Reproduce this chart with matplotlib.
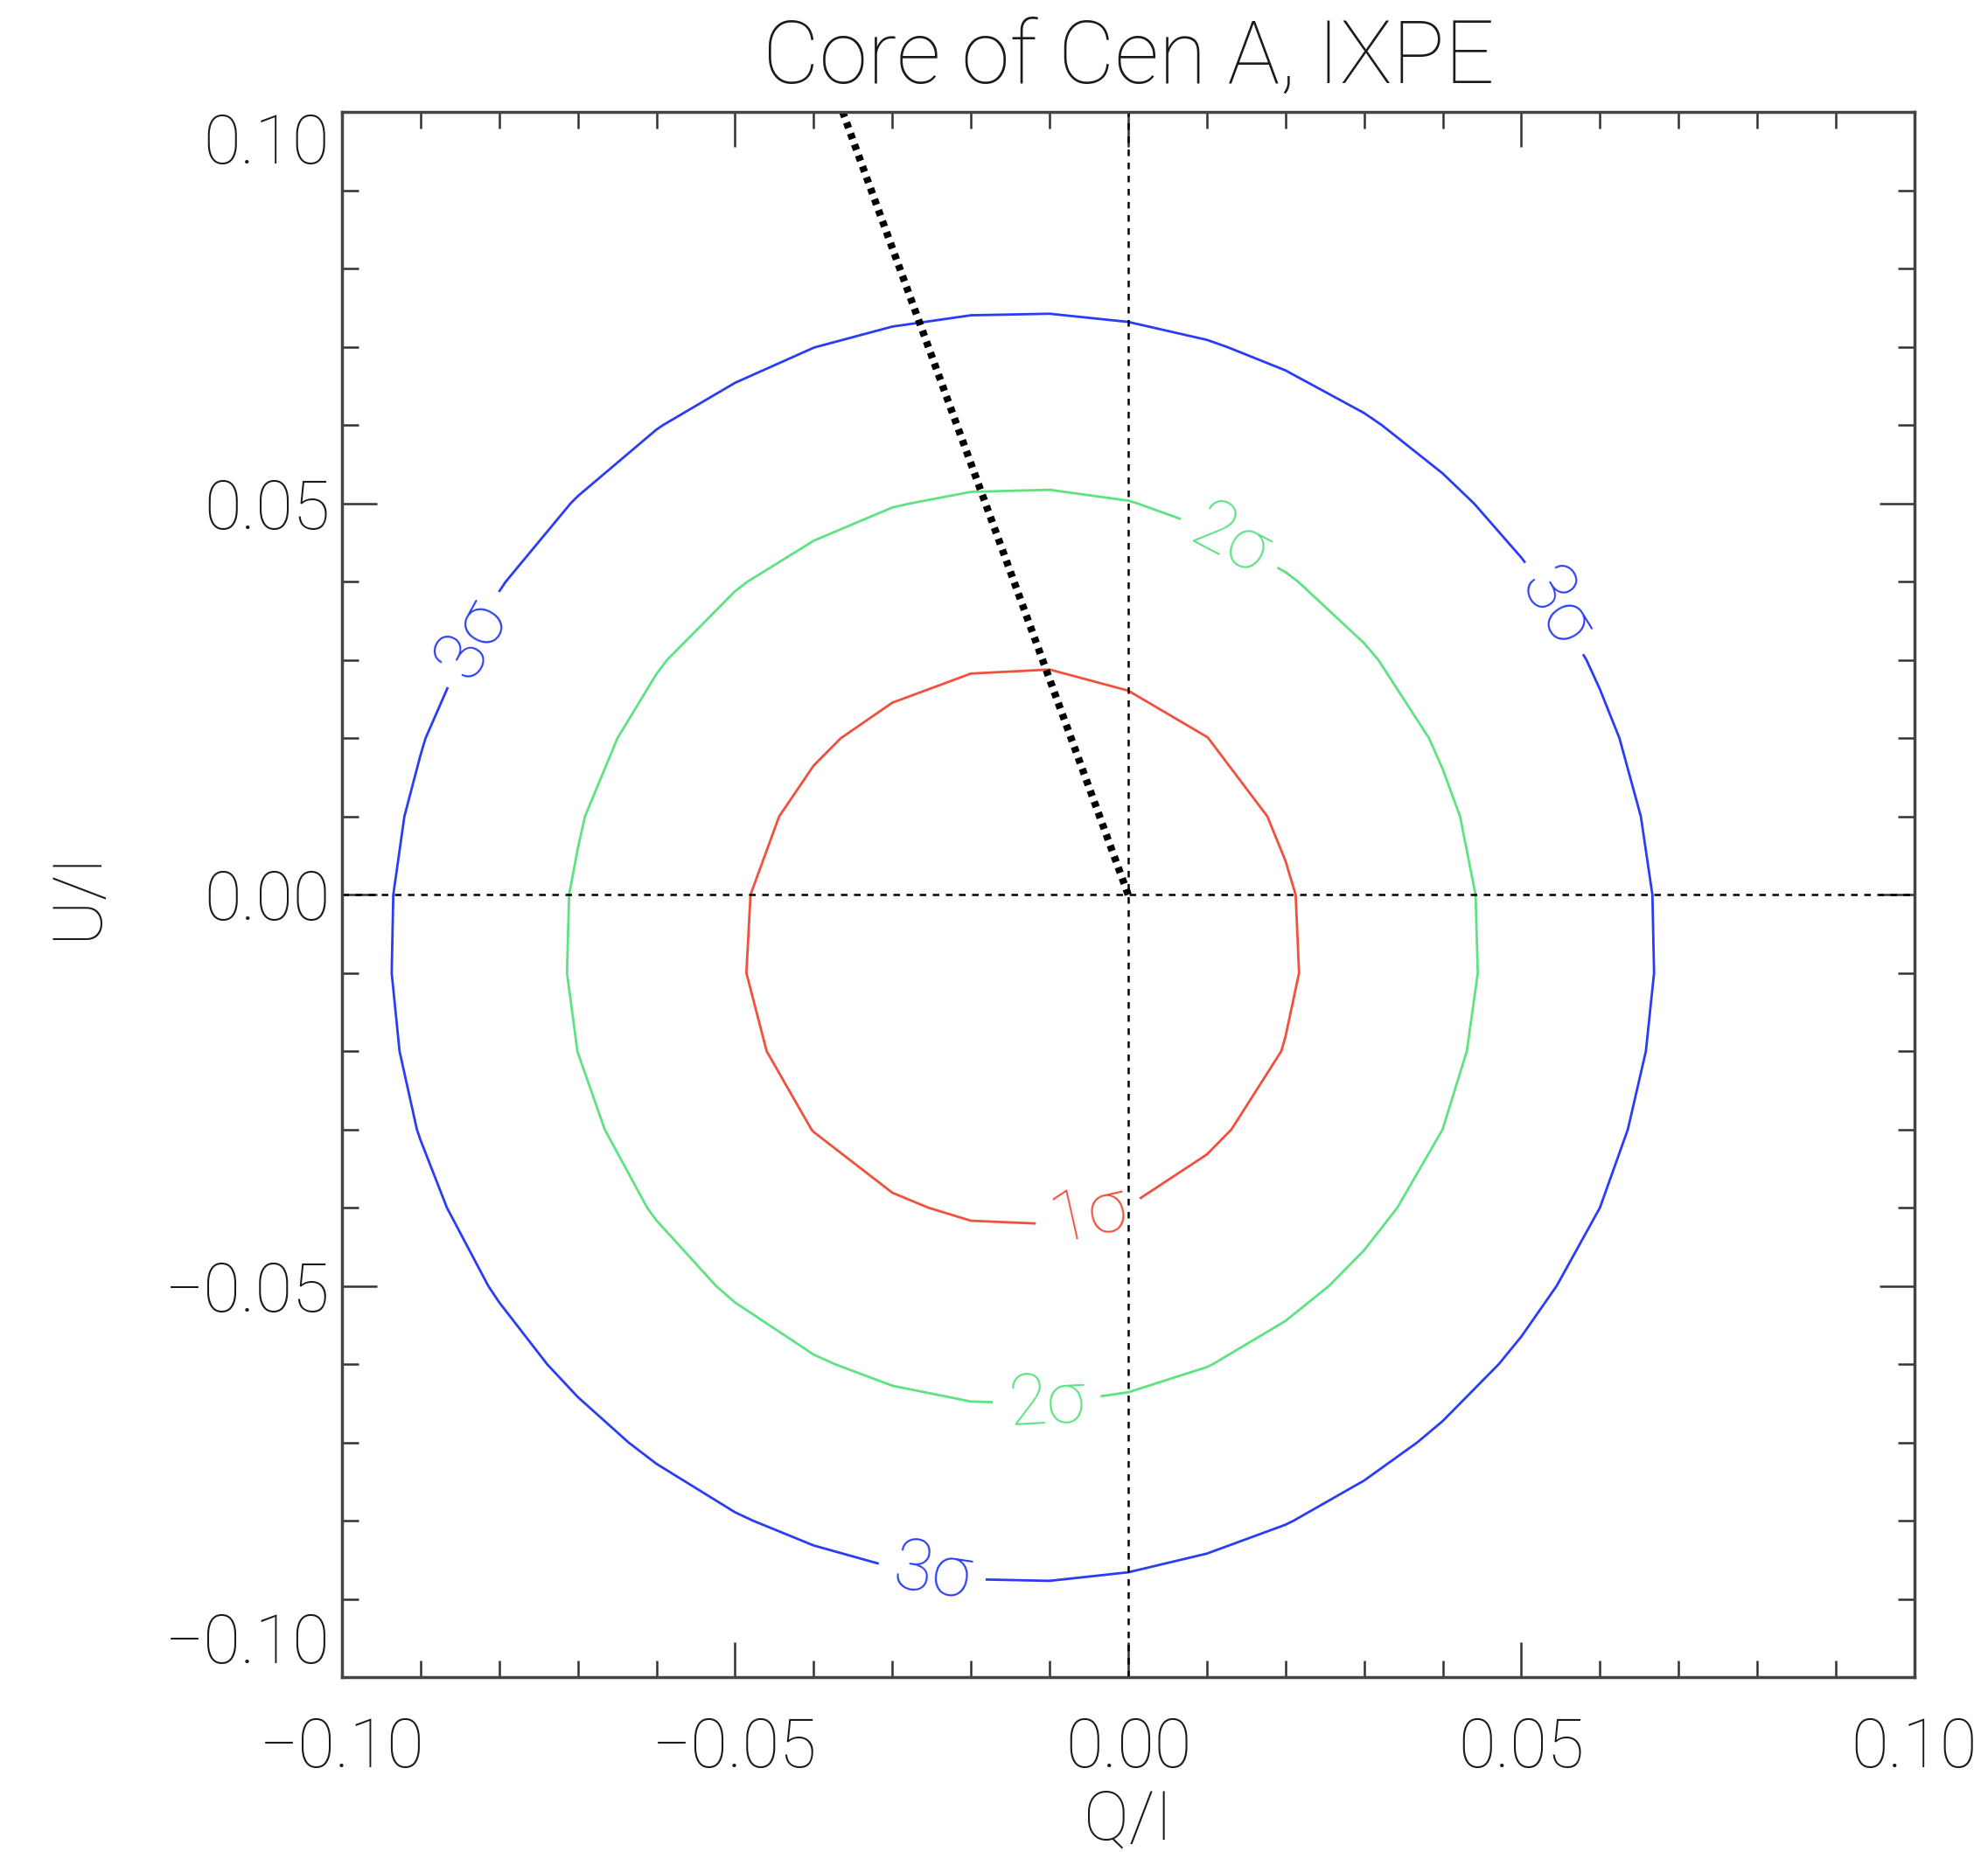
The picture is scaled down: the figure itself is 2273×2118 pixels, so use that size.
import numpy as np
import matplotlib
matplotlib.use('Agg')
import matplotlib.pyplot as plt

plt.rcParams['font.family'] = ['Roboto', 'DejaVu Sans']
plt.rcParams['font.weight'] = 'light'
plt.rcParams['axes.titleweight'] = 'light'
plt.rcParams['axes.labelweight'] = 'light'

# best-fit centre and 1-parameter errors of Q/I, U/I
q0, u0 = -0.0134, -0.0067
sig_q, sig_u = 0.0234, 0.0236
# delta chi^2 levels for 2 dof (1, 2, 3 sigma)
levels = [2.30, 6.18, 11.83]
level_names = ['1σ', '2σ', '3σ']
level_colors = ['#f0503c', '#5ee282', '#2a3cf5']
# grid the chi^2 map was computed on
grid_q = np.arange(-0.10, 0.1001, 0.01)
grid_u = np.arange(-0.10, 0.1001, 0.01)
# polarisation angle line (from origin to top edge)
angle_q = [0.0, -0.0363]
angle_u = [0.0, 0.10]
# label positions
label_pos = [(-0.0052, -0.040), (-0.0103, -0.0636), (0.0137, 0.0465),
             (-0.0247, -0.085), (-0.0852, 0.0337), (0.0552, 0.0372)]

Q, U = np.meshgrid(grid_q, grid_u)
chi2 = ((Q - q0) / sig_q)**2 + ((U - u0) / sig_u)**2

fig = plt.figure(figsize=(22.73, 21.18), dpi=100)
ax = fig.add_axes([0.172, 0.0944, 0.791, 0.845])

cs = ax.contour(Q, U, chi2, levels=levels, colors=level_colors, linewidths=2)
ax.clabel(cs, fmt=dict(zip(levels, level_names)), manual=label_pos,
          inline=True, fontsize=58, inline_spacing=18)

ax.axhline(0, color='black', lw=1.8, ls=(0, (3, 3)))
ax.axvline(0, color='black', lw=1.8, ls=(0, (3, 3)))
ax.plot(angle_q, angle_u, color='black', lw=6, ls=(0, (0.8, 0.8)))

ax.set_xlim(-0.10, 0.10)
ax.set_ylim(-0.10, 0.10)
ax.set_xticks([-0.10, -0.05, 0.0, 0.05, 0.10])
ax.set_yticks([-0.10, -0.05, 0.0, 0.05, 0.10])
ax.set_xticks(np.arange(-0.10, 0.1001, 0.01), minor=True)
ax.set_yticks(np.arange(-0.10, 0.1001, 0.01), minor=True)
ax.xaxis.set_major_formatter(lambda v, p: f'{v:.2f}'.replace('-', '−'))
ax.yaxis.set_major_formatter(lambda v, p: f'{v:.2f}'.replace('-', '−'))
ax.tick_params(which='both', direction='in', top=True, right=True,
               color='#333333', labelsize=56, labelcolor='#1a1a1a')
ax.tick_params(which='major', length=29, width=1.8)
ax.tick_params(which='minor', length=14, width=1.8)
ax.tick_params(axis='x', which='major', pad=32)
ax.tick_params(axis='y', which='major', pad=10)
for s in ax.spines.values():
    s.set_linewidth(2.5)
    s.set_color('#444444')

# IDL keeps the end labels inside the axis range
ylabels = ax.get_yticklabels()
ylabels[0].set_va('bottom')
ylabels[-1].set_va('top')

ax.set_xlabel('Q/I', fontsize=56, color='#1a1a1a', labelpad=6)
ax.set_ylabel('U/I', fontsize=56, color='#1a1a1a', labelpad=45)
ax.set_title('Core of Cen A, IXPE', fontsize=72, color='#1a1a1a', pad=24)

fig.savefig('out.png', dpi=100)
plt.close()
